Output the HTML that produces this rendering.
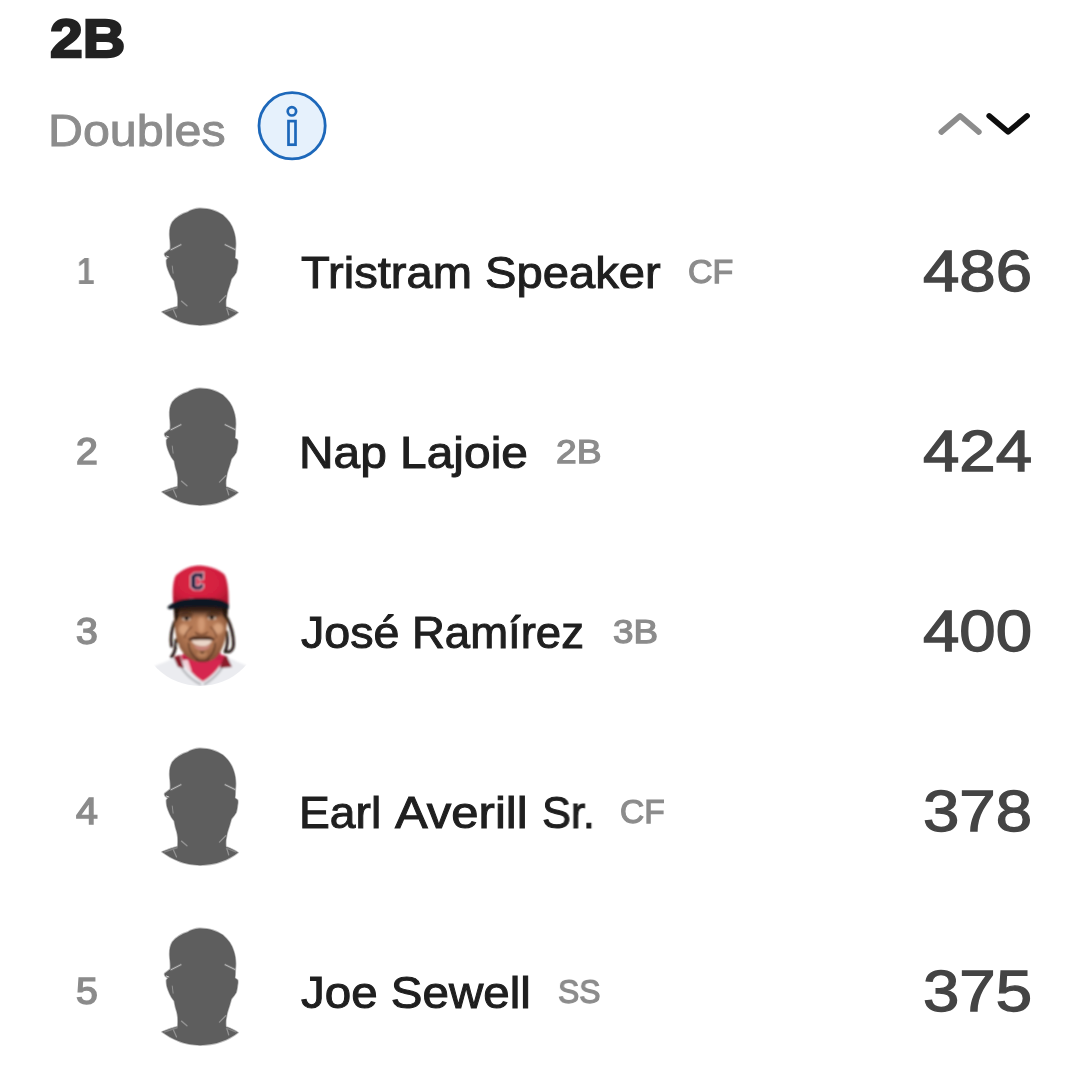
<!DOCTYPE html>
<html>
<head>
<meta charset="utf-8">
<title>2B Doubles</title>
<style>
html,body{margin:0;padding:0;background:#fff;}
body{width:1080px;height:1092px;position:relative;overflow:hidden;font-family:"Liberation Sans",sans-serif;}
.t{position:absolute;white-space:nowrap;line-height:1;transform-origin:0 0;will-change:transform;}
.title{left:49.5px;top:12px;font-size:54.5px;font-weight:bold;color:#222;-webkit-text-stroke:2.3px #222;transform:scaleX(1.08);}
.sub{left:47.8px;top:109px;font-size:44px;color:#8c8c8c;-webkit-text-stroke:0.9px #8c8c8c;transform:scaleX(1.10);}
.row{position:absolute;left:0;width:1080px;height:180px;}
.rank{left:75.6px;top:73.3px;font-size:36px;color:#8b8b8b;-webkit-text-stroke:1.5px #8b8b8b;transform:scaleX(1.09);}
.rank.one{font-weight:bold;-webkit-text-stroke:0;font-size:36px;top:73px;left:76.6px;transform:scaleX(0.88);}
.name{left:301px;top:70.3px;font-size:44px;color:#1f1f1f;-webkit-text-stroke:1px #1f1f1f;}
.pos{top:73.8px;font-size:33.5px;color:#8c8c8c;-webkit-text-stroke:1.25px #8c8c8c;}
.val{left:922.6px;top:63px;font-size:56.6px;color:#444;-webkit-text-stroke:1.3px #444;transform:scaleX(1.155);}
.av{position:absolute;left:140px;top:19px;width:120px;height:135px;}
.sl svg{display:block;}

</style>
</head>
<body>
<div class="t title">2B</div>
<div class="t sub">Doubles</div>

<!-- info icon -->
<svg style="position:absolute;left:252px;top:86px" width="80" height="80" viewBox="0 0 80 80">
  <circle cx="40.1" cy="39.8" r="33.1" fill="#e6f1fc" stroke="#1d68ba" stroke-width="2.8"/>
  <circle cx="39.9" cy="25.3" r="4.2" fill="none" stroke="#1d68ba" stroke-width="2.7"/>
  <rect x="36.5" y="35.1" width="7" height="23.6" fill="none" stroke="#1d68ba" stroke-width="2.7"/>
</svg>

<!-- sort chevrons -->
<svg style="position:absolute;left:930px;top:105px" width="110" height="40" viewBox="0 0 110 40">
  <path d="M11.3 27 L30.1 10.9 L48.9 27" fill="none" stroke="#8c8c8c" stroke-width="5.6" stroke-linecap="round" stroke-linejoin="round"/>
  <path d="M59.2 10.9 L78.1 26.9 L97.1 10.9" fill="none" stroke="#0d0d0d" stroke-width="5.6" stroke-linecap="round" stroke-linejoin="round"/>
</svg>

<svg width="0" height="0" style="position:absolute">
  <defs>
    <filter id="sb" x="-10%" y="-10%" width="120%" height="120%"><feGaussianBlur stdDeviation="0.8"/></filter>
    <symbol id="sil" viewBox="0 0 971 1092">
      <g>
      <path fill="#5e5e5e" stroke="#5e5e5e" stroke-opacity="0.42" stroke-width="13" stroke-linejoin="round" d="M480 68 C440 70 410 82 385 98 C340 112 290 140 262 178 C242 210 238 250 240 290 C242 330 250 360 244 398 L200 432 C196 446 206 460 228 468 L214 486 C212 515 219 545 228 567 C236 590 246 610 256 626 C264 638 272 648 277 656 C281 682 288 712 298 743 C302 760 305 775 306 788 C307 815 307 840 305 862 C270 870 220 886 178 905 C250 960 360 1013 486 1013 C615 1013 725 965 793 911 C770 894 735 878 696 864 C693 845 694 828 695 810 C698 790 702 770 706 750 C712 730 718 710 725 690 C730 672 735 655 740 638 C755 620 768 603 778 586 C784 565 788 545 789 526 C792 512 794 498 790 486 L768 470 C772 440 770 415 772 395 C778 340 772 290 758 250 C745 205 715 160 670 122 C625 90 560 66 480 68 Z"/>
      <path d="M246 405 L336 359" stroke="#ffffff" stroke-opacity="0.13" stroke-width="22" fill="none"/><path d="M248 404 L334 360" stroke="#bdbdbd" stroke-width="8" fill="none"/>
      <path d="M684 359 L774 403" stroke="#ffffff" stroke-opacity="0.13" stroke-width="22" fill="none"/><path d="M686 360 L772 402" stroke="#bdbdbd" stroke-width="8" fill="none"/>
      <path d="M210 452 L236 462" stroke="#cfcfcf" stroke-width="8" fill="none"/>
      <g opacity="0.6" fill="none" stroke="#b5b5b5" stroke-linecap="round">
        <path d="M336 818 L380 856" stroke-width="11"/>
        <path d="M643 826 L694 774" stroke-width="11"/>
        <path d="M261 534 L268 592" stroke-width="8"/>
        <path d="M266 880 L296 946" stroke-width="10"/>
        <path d="M703 880 L718 930" stroke-width="10"/>
        <path d="M200 905 L300 872" stroke-width="12" stroke="#9a9a9a"/>
        <path d="M700 875 L775 905" stroke-width="12" stroke="#9a9a9a"/>
      </g>
      </g>
    </symbol>
  </defs>
</svg>

<div class="row" style="top:181px">
  <div class="t rank one">1</div>
  <div class="av sl"><svg width="120" height="135" viewBox="0 0 120 135"><use href="#sil" width="120" height="135"/></svg></div>
  <div class="t name" style="left:301px;transform:scaleX(1.071)">Tristram Speaker</div>
  <div class="t pos" style="left:688.3px;transform:scaleX(1.014)">CF</div>
  <div class="t val">486</div>
</div>
<div class="row" style="top:361px">
  <div class="t rank">2</div>
  <div class="av sl"><svg width="120" height="135" viewBox="0 0 120 135"><use href="#sil" width="120" height="135"/></svg></div>
  <div class="t name" style="left:299px;transform:scaleX(1.088)">Nap Lajoie</div>
  <div class="t pos" style="left:556.0px;transform:scaleX(1.11)">2B</div>
  <div class="t val">424</div>
</div>
<div class="row" style="top:541px">
  <div class="t rank">3</div>
  <svg class="av" viewBox="140 560 120 135">
    <defs>
      <clipPath id="pc"><circle cx="200" cy="625" r="61"/></clipPath>
      <filter id="pb" x="-10%" y="-10%" width="120%" height="120%"><feGaussianBlur stdDeviation="0.8"/></filter>
      <filter id="pb2" x="-20%" y="-20%" width="140%" height="140%"><feGaussianBlur stdDeviation="1.2"/></filter>
      <radialGradient id="skin" cx="0.5" cy="0.42" r="0.62">
        <stop offset="0" stop-color="#5a2f1a" stop-opacity="0"/>
        <stop offset="0.55" stop-color="#5a2f1a" stop-opacity="0.12"/>
        <stop offset="1" stop-color="#4a2614" stop-opacity="0.6"/>
      </radialGradient>
      <radialGradient id="capg" cx="0.46" cy="0.42" r="0.7">
        <stop offset="0" stop-color="#dc2343"/>
        <stop offset="0.6" stop-color="#d21f3e"/>
        <stop offset="1" stop-color="#a8142c"/>
      </radialGradient>
      <linearGradient id="brow" x1="0" y1="0" x2="0" y2="1">
        <stop offset="0" stop-color="#120c0a" stop-opacity="1"/>
        <stop offset="0.5" stop-color="#24140e" stop-opacity="0.8"/>
        <stop offset="1" stop-color="#6a3f28" stop-opacity="0"/>
      </linearGradient>
    </defs>
    <g clip-path="url(#pc)" filter="url(#pb)">
      <!-- jersey -->
      <path d="M150 668 C160 664 172 659 180 656 L224 656 C232 659 242 664 252 668 L252 700 L150 700 Z" fill="#ebecf0"/>
      <path d="M177.5 657 C179 666 186 677 201 684.5 M226.5 656 C224 668 215 678 204 684.5" stroke="#b4b5b9" stroke-width="2.2" fill="none"/>
      <!-- collar dark red -->
      <path d="M173.5 657 L180 655 L184 668 L178 667 Z" fill="#8a1b2c"/>
      <path d="M227 656.5 L222 655 L220 668 L232 667 Z" fill="#8a1b2c"/>
      <!-- undershirt -->
      <path d="M180.5 655 L224 655 C223 664 214 675 202.8 681.6 C194 676 184 666 180.5 655 Z" fill="#d62650"/>
      <path d="M183 660 L187.5 659 L191.5 671 L188 671 Z" fill="#f1d3d9"/>
      <!-- hair dreads -->
      <path d="M174.5 622 C171.5 630 170.5 640 171.5 646 M176 640 C176 648 174 654 171.5 657 M227 618 C231 626 233.5 636 233.5 644 C233.5 649 231 652 227.5 652 M226.5 632 C228 640 227 648 225 652" stroke="#20140e" stroke-width="2.9" fill="none" stroke-linecap="round"/>
      <!-- neck -->
      <path d="M184 650 L220 650 L222 660 L182 660 Z" fill="#c4234a"/>
      <path d="M174.6 604 L179.5 604 C178.5 611 178.5 618 179 624 L175.2 626 C174.2 618 174.2 611 174.6 604 Z M227.2 604 L222.5 604 C223.5 610 223.5 616 223 622 L226.6 624 C227.6 617 227.6 610 227.2 604 Z" fill="#1d130e"/>
      <!-- face -->
      <path d="M174.6 606 C173.8 618 174.6 631 177 640.5 C179.5 650 186 658 195 661 C199.5 662.2 206 662.2 210.2 660.8 C217.5 658 222.5 649.5 224.8 640.5 C227 630 227.5 618 227.2 606 Z" fill="#bb7f5a"/>
      <path d="M174.6 606 C173.8 618 174.6 631 177 640.5 C179.5 650 186 658 195 661 C199.5 662.2 206 662.2 210.2 660.8 C217.5 658 222.5 649.5 224.8 640.5 C227 630 227.5 618 227.2 606 Z" fill="url(#skin)"/>
      <!-- highlights -->
      <ellipse cx="183.8" cy="629.5" rx="5.2" ry="5.6" fill="#dda984" opacity="0.85" filter="url(#pb2)"/>
      <ellipse cx="218.2" cy="628.5" rx="5.2" ry="5.6" fill="#dda984" opacity="0.85" filter="url(#pb2)"/>
      <ellipse cx="201.4" cy="624" rx="3.6" ry="8.5" fill="#d8a07a" opacity="0.8" filter="url(#pb2)"/>
      <ellipse cx="201" cy="613.5" rx="8" ry="3" fill="#c98f68" opacity="0.7" filter="url(#pb2)"/>
      <ellipse cx="202" cy="654.5" rx="5.5" ry="3.2" fill="#c98f68" opacity="0.75" filter="url(#pb2)"/>
      <!-- temple hair -->
      <path d="M173.8 604 L180 604 C179 609 178.8 613 179 616.5 L175.6 623 C174.4 616 174 610 173.8 604 Z M227.6 604 L221.6 604 C222.6 608 222.8 612 222.6 615 L226.4 621 C227.4 615 227.8 609 227.6 604 Z" fill="#17100c"/>
      <!-- forehead shadow under brim -->
      <path d="M173.5 603 L228 603 L227.6 619 L174 619 Z" fill="url(#brow)"/>
      <!-- eyes + brows -->
      <path d="M180.2 615.6 C183 613.6 188.5 613.4 192 615.4 M207 614.8 C210.5 612.8 216.5 613 219.8 615" stroke="#2a1810" stroke-width="1.3" fill="none" stroke-linecap="round" opacity="0.8"/>
      <ellipse cx="186.4" cy="618.8" rx="4.4" ry="2" fill="#cdb3a0"/>
      <ellipse cx="212" cy="617.9" rx="4.4" ry="2" fill="#cdb3a0"/>
      <ellipse cx="186.6" cy="618.6" rx="2.3" ry="2.1" fill="#20120b"/>
      <ellipse cx="211.8" cy="617.7" rx="2.3" ry="2.1" fill="#20120b"/>
      <path d="M181.6 618 C184 616 189 616 191.4 618 M207.2 617.2 C209.6 615.2 214.6 615.2 217 617.2" stroke="#1d100a" stroke-width="1.1" fill="none" stroke-linecap="round"/>
      <!-- nose -->
      <path d="M195.5 632.5 C197 634.6 199.5 634.2 201.3 634.8 C203.2 634.2 206 634.6 207.5 632.4" stroke="#6b3c25" stroke-width="1.4" fill="none" stroke-linecap="round"/>
      <!-- smile lines -->
      <path d="M191.5 627 C188 630 185.5 633.5 184.6 637.5 M210.6 627 C214 630 216 633.5 216.4 637.5" stroke="#7d4a30" stroke-width="1.5" fill="none" stroke-linecap="round"/>
      <!-- mustache -->
      <path d="M188 639.2 C193 635.4 198 635.2 201.4 636.6 C205 635.2 210 635.4 215 639 L214 640.8 C209 639.4 195 639.4 189.4 641 Z" fill="#4a2b1c" opacity="0.92"/>
      <!-- mouth -->
      <path d="M191.4 640.6 C196 639.8 208 639.8 212 640.4 C210.6 644.4 207 646.2 202.2 646.2 C197.4 646.2 193 644.4 191.4 640.6 Z" fill="#ead6c8"/>
      <path d="M193.4 645 C197 647 207.5 647 210.8 644.8 C209 649.4 204.5 650.4 202.3 650.4 C199.5 650.4 195.4 649.2 193.4 645 Z" fill="#c9857c"/>
      <!-- goatee outline -->
      <path d="M188.4 642.5 C188.6 650 192.5 656.5 197.5 659.4 M215.2 642.5 C215.2 650 211.5 656 207.2 659.2" stroke="#4f2f1f" stroke-width="1.5" fill="none" opacity="0.85"/>
      <path d="M196 659.6 C199 661.6 206 661.6 209.2 659.4" stroke="#4a2b1c" stroke-width="1.8" fill="none" opacity="0.85"/>
      <path d="M199.6 651.2 L205 651.2 L203.6 653.8 L201 653.8 Z" fill="#4a2b1c" opacity="0.7"/>
      <ellipse cx="178" cy="645" rx="1.1" ry="1.1" fill="#efe6d8"/>
      <!-- cap crown -->
      <path d="M173.2 603 C172.3 592 172.8 581 175.8 575.6 C181.5 569.4 191.5 565.4 199.2 565.4 C208 565.4 218.5 569 224.4 574.4 C228 580.5 228.8 592 228.6 605 C219 600 209 598 199 598 C190 598 180.5 600 173.2 603 Z" fill="url(#capg)"/>
      <!-- brim -->
      <path d="M167.4 607.3 C169.5 604.8 175 601.4 182 599.6 C190 597.7 208 597.4 218 599.3 C224 600.6 228.2 602.8 228.8 604.4 L228.8 609 C222 606.8 212 606 199 606.2 C188 606.4 178 607.4 172 609 C169.6 609.6 167.6 609 167.4 607.3 Z" fill="#111624"/>
      <!-- C logo -->
      <path d="M203.8 572 L203.4 579.2 L199.4 580.6 L199.4 577.2 L196 577.2 L196 585.8 L199.4 585.8 L199.4 583.2 L203.6 584.2 L203.6 587.4 L200.8 590 L194 590 L190.6 587.2 L190.6 575.8 L194 572.8 L200 572.8 Z" fill="#1e1d3f" stroke="#e7b7c6" stroke-width="1.1" stroke-linejoin="round"/>
    </g>
  </svg>
  <div class="t name" style="left:301px;transform:scaleX(1.06)">José</div>
  <div class="t name" style="left:412.2px;transform:scaleX(1.034)">Ramírez</div>
  <div class="t pos" style="left:613.0px;transform:scaleX(1.10)">3B</div>
  <div class="t val">400</div>
</div>
<div class="row" style="top:721px">
  <div class="t rank">4</div>
  <div class="av sl"><svg width="120" height="135" viewBox="0 0 120 135"><use href="#sil" width="120" height="135"/></svg></div>
  <div class="t name" style="left:299.1px;transform:scaleX(1.05)">Earl</div>
  <div class="t name" style="left:394.7px;transform:scaleX(1.114)">Averill</div>
  <div class="t name" style="left:541.5px;transform:scaleX(0.985)">Sr.</div>
  <div class="t pos" style="left:620.2px;transform:scaleX(0.994)">CF</div>
  <div class="t val">378</div>
</div>
<div class="row" style="top:901px">
  <div class="t rank">5</div>
  <div class="av sl"><svg width="120" height="135" viewBox="0 0 120 135"><use href="#sil" width="120" height="135"/></svg></div>
  <div class="t name" style="left:301px;transform:scaleX(1.08)">Joe Sewell</div>
  <div class="t pos" style="left:558.3px;transform:scaleX(0.952)">SS</div>
  <div class="t val">375</div>
</div>
</body>
</html>
